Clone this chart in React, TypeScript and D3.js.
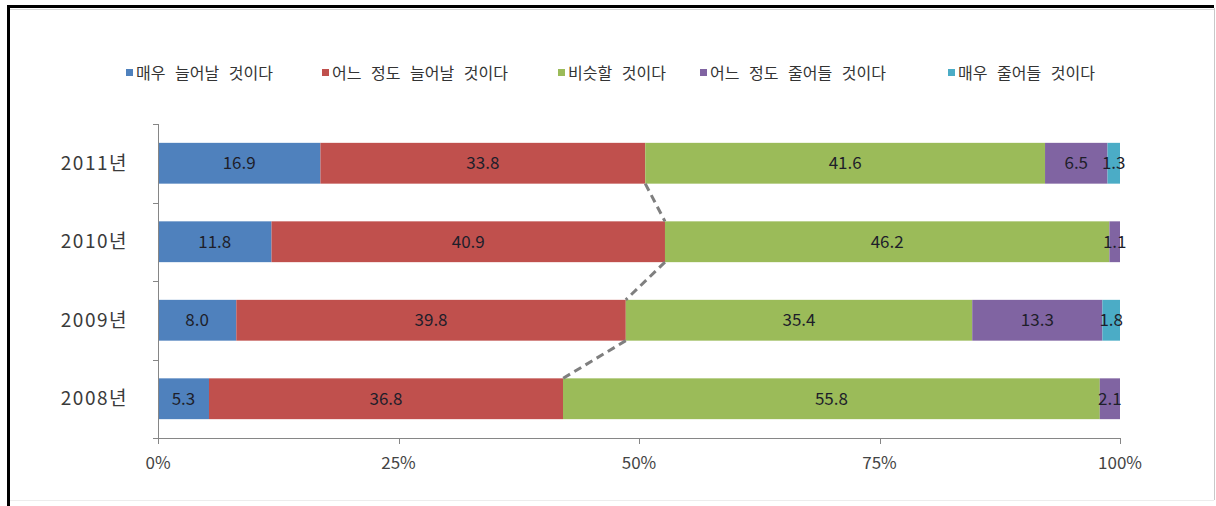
import React from "react";
import * as d3 from "d3";

const categories = ["2011년", "2010년", "2009년", "2008년"];
const seriesNames = ["매우 늘어날 것이다", "어느 정도 늘어날 것이다", "비슷할 것이다", "어느 정도 줄어들 것이다", "매우 줄어들 것이다"];
const veryIncrease = [16.9, 11.8, 8.0, 5.3];
const someIncrease = [33.8, 40.9, 39.8, 36.8];
const similar = [41.6, 46.2, 35.4, 55.8];
const someDecrease = [6.5, 1.1, 13.3, 2.1];
const veryDecrease = [1.3, 0, 1.8, 0];
const xTicks = [0, 0.25, 0.5, 0.75, 1];

const colors = ["#4F81BD", "#C0504D", "#9BBB59", "#8064A2", "#4BACC6"];
const legendX = [136, 332, 568, 710, 958];

const W = 1216, H = 506;
const left = 158, right = 1120, top = 124, bottom = 438;
const FONT = "'Noto Sans CJK KR', 'Noto Sans', sans-serif";

export default function App() {
  const seriesVals = [veryIncrease, someIncrease, similar, someDecrease, veryDecrease];
  const rows = categories.map((c, i) => {
    const r: any = { cat: c };
    seriesNames.forEach((s, j) => (r[s] = seriesVals[j][i]));
    return r;
  });
  const stack = d3.stack().keys(seriesNames).offset(d3.stackOffsetExpand);
  const stacked = stack(rows);

  const x = d3.scaleLinear().domain([0, 1]).range([left, right]);
  const y = d3.scaleBand().domain(categories).range([top, bottom]).paddingInner(0.48).paddingOuter(0.24);
  const band = d3.scaleBand().domain(categories).range([top, bottom]);

  const redLayer = stacked[1];

  return (
    <svg width={W} height={H} style={{ position: "absolute", left: 0, top: 0, background: "#fff" }}>
      {/* frame */}
      <line x1={7} x2={1214} y1={6.5} y2={6.5} stroke="#000" strokeWidth={3} />
      <line x1={8.5} x2={8.5} y1={5} y2={506} stroke="#000" strokeWidth={3} />
      <line x1={10} x2={1214} y1={9.5} y2={9.5} stroke="#d8d8d8" strokeWidth={1} />
      <line x1={1214.5} x2={1214.5} y1={8} y2={500} stroke="#c8c8c8" strokeWidth={1} />
      <line x1={10} x2={1214} y1={500.5} y2={500.5} stroke="#ececec" strokeWidth={1} />

      {/* legend */}
      {seriesNames.map((s, i) => (
        <g key={s}>
          <rect x={legendX[i] - 10} y={69} width={7} height={7} fill={colors[i]} />
          <text x={legendX[i]} y={78.5} fontFamily={FONT} fontSize={16} fill="#333" style={{ wordSpacing: "6px" }}>
            {s}
          </text>
        </g>
      ))}

      {/* bars */}
      {stacked.map((layer, li) => (
        <g key={layer.key}>
          {layer.map((d, i) => {
            const x0 = x(d[0]), x1 = x(d[1]);
            const cat = categories[i];
            const val = seriesVals[li][i];
            if (val <= 0) return null;
            return (
              <g key={cat}>
                <rect x={x0} y={y(cat)} width={x1 - x0} height={y.bandwidth()} fill={colors[li]} />
                <text
                  x={(x0 + x1) / 2}
                  y={(y(cat) as number) + y.bandwidth() / 2}
                  dy="0.35em"
                  textAnchor="middle"
                  fontFamily={FONT}
                  fontSize={17}
                  fill="#1e1e2a"
                >
                  {val.toFixed(1)}
                </text>
              </g>
            );
          })}
        </g>
      ))}

      {/* series lines for red series */}
      {redLayer.slice(0, -1).map((d, i) => {
        const next = redLayer[i + 1];
        const yA = (y(categories[i]) as number) + y.bandwidth();
        const yB = y(categories[i + 1]) as number;
        return (
          <line
            key={i}
            x1={x(d[1])}
            y1={yA}
            x2={x(next[1])}
            y2={yB}
            stroke="#7f7f7f"
            strokeWidth={3}
            strokeDasharray="8,5"
          />
        );
      })}

      {/* y axis */}
      <line x1={left + 0.5} x2={left + 0.5} y1={top} y2={bottom} stroke="#868686" strokeWidth={1} />
      {[...categories.map((c) => band(c) as number), bottom].map((t, i) => (
        <line key={i} x1={left - 5} x2={left} y1={Math.round(t) + 0.5} y2={Math.round(t) + 0.5} stroke="#868686" />
      ))}
      {categories.map((c) => (
        <text
          key={c}
          x={128}
          y={(band(c) as number) + band.bandwidth() / 2}
          dy="0.35em"
          textAnchor="end"
          fontFamily={FONT}
          fontSize={19}
          fill="#3a3a3a"
          style={{ letterSpacing: "1.5px" }}
        >
          {c}
        </text>
      ))}

      {/* x axis */}
      <line x1={left} x2={right} y1={bottom + 0.5} y2={bottom + 0.5} stroke="#868686" />
      {xTicks.map((t) => (
        <g key={t}>
          <line x1={Math.round(x(t)) + 0.5} x2={Math.round(x(t)) + 0.5} y1={bottom} y2={bottom + 6} stroke="#868686" />
          <text x={x(t)} y={463} dy="0.35em" textAnchor="middle" fontFamily={FONT} fontSize={17} fill="#444">
            {d3.format(".0%")(t)}
          </text>
        </g>
      ))}
    </svg>
  );
}
